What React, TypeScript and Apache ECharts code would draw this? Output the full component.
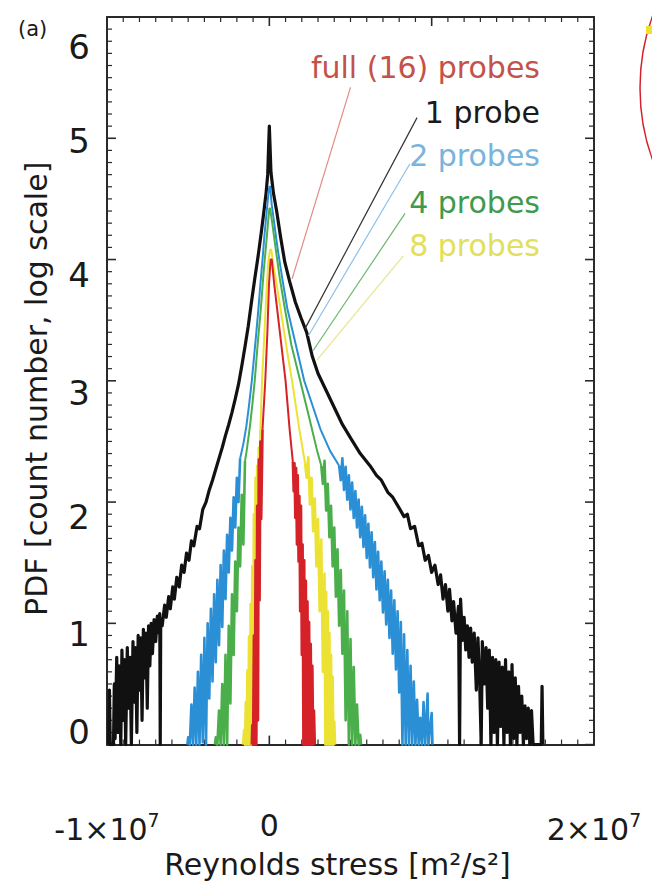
import React, { useEffect, useRef } from "react";
import * as echarts from "echarts";

// x values are in units of 1e6 m^2/s^2, y is log10(count)
const X_UNIT = 1e6;
const FONT = "DejaVu Sans";

const xTicks = [-1e7, 0, 1e7, 2e7];
const yTicks = [0, 1, 2, 3, 4, 5, 6];
const X_MINOR_PER_MAJOR = 10;
const Y_MINOR_PER_MAJOR = 10;

const legendNames = ["full (16) probes", "1 probe", "2 probes", "4 probes", "8 probes"];

// 1 probe (black)
const probe1: [number, number][] = [
  [-9.9, 0], [-9.85, 0.45], [-9.8, 0], [-9.6, 0], [-9.55, 0.5], [-9.5, 0.05], [-9.4, 0.72], [-9.32, 0.1],
  [-9.25, 0.65], [-9.15, 0], [-9.08, 0.78], [-9.0, 0.2], [-8.92, 0.7], [-8.85, 0], [-8.75, 0.8], [-8.66, 0.3],
  [-8.58, 0.72], [-8.5, 0], [-8.4, 0.85], [-8.32, 0.35], [-8.24, 0.8], [-8.16, 0.1], [-8.08, 0.9], [-8.0, 0.45],
  [-7.92, 0.88], [-7.84, 0.2], [-7.76, 0.95], [-7.68, 0.55], [-7.6, 0.92], [-7.52, 0.3], [-7.44, 0.98],
  [-7.36, 0.65], [-7.28, 1.0], [-7.2, 0.75], [-7.1, 1.03], [-7.0, 0.85], [-6.9, 1.06], [-6.8, 0.92],
  [-6.75, 1.08], [-6.72, 0], [-6.69, 1.04], [-6.6, 0.98], [-6.45, 1.15], [-6.35, 1.05], [-6.2, 1.22],
  [-6.1, 1.12], [-5.95, 1.3], [-5.85, 1.2], [-5.7, 1.38], [-5.55, 1.3], [-5.4, 1.48], [-5.25, 1.42],
  [-5.1, 1.58], [-4.95, 1.52], [-4.8, 1.68], [-4.65, 1.64], [-4.45, 1.8], [-4.3, 1.78], [-4.1, 1.94],
  [-3.9, 2.0], [-3.7, 2.1], [-3.5, 2.18], [-3.3, 2.27], [-3.1, 2.36], [-2.9, 2.45], [-2.7, 2.55],
  [-2.5, 2.64], [-2.3, 2.74], [-2.1, 2.85], [-1.9, 2.97], [-1.7, 3.12], [-1.5, 3.28], [-1.3, 3.45],
  [-1.1, 3.65], [-0.9, 3.84], [-0.7, 4.02], [-0.5, 4.22], [-0.35, 4.38], [-0.2, 4.55], [-0.1, 4.7],
  [-0.04, 4.95], [0, 5.1], [0.04, 4.95], [0.1, 4.72], [0.25, 4.55], [0.45, 4.4], [0.7, 4.18], [0.95, 3.98],
  [1.25, 3.82], [1.6, 3.65], [1.95, 3.52], [2.3, 3.4], [2.65, 3.2], [3.0, 3.06], [3.5, 2.92], [4.0, 2.78],
  [4.5, 2.64], [5.0, 2.53], [5.6, 2.4], [6.2, 2.3], [6.6, 2.22], [6.9, 2.18], [7.3, 2.08], [7.6, 2.04],
  [8.0, 1.95], [8.3, 1.88], [8.5, 1.9], [8.7, 1.78], [8.95, 1.8], [9.2, 1.64], [9.4, 1.66], [9.6, 1.52],
  [9.8, 1.56], [10.0, 1.42], [10.2, 1.48], [10.4, 1.32], [10.55, 1.4], [10.7, 1.2], [10.85, 1.32],
  [11.0, 1.1], [11.1, 1.28], [11.25, 1.02], [11.35, 1.18], [11.5, 0.92], [11.65, 1.14], [11.72, 0],
  [11.78, 1.2], [11.9, 0.86], [12.0, 1.05], [12.1, 0.78], [12.2, 0.98], [12.3, 0.72], [12.4, 0.96],
  [12.5, 0.68], [12.62, 0.92], [12.75, 0.45], [12.85, 0.88], [12.95, 0.55], [13.05, 0], [13.12, 0.85],
  [13.25, 0.5], [13.35, 0.8], [13.45, 0.3], [13.55, 0.78], [13.65, 0], [13.75, 0.72], [13.85, 0.1],
  [13.95, 0.7], [14.05, 0], [14.15, 0.68], [14.25, 0.15], [14.35, 0.64], [14.45, 0], [14.55, 0.7],
  [14.65, 0.1], [14.75, 0.6], [14.85, 0], [14.95, 0.66], [15.05, 0.05], [15.15, 0.55], [15.25, 0],
  [15.35, 0.48], [15.45, 0.1], [15.55, 0.4], [15.65, 0], [15.75, 0.32], [15.85, 0.05], [15.95, 0.3],
  [16.05, 0], [16.15, 0.28], [16.25, 0], [16.75, 0], [16.8, 0.48], [16.85, 0],
];

// 2 probes (blue): noisy left tail, core, noisy right tail
const probe2Left: [number, number][] = [
  [-5.05, 0], [-5.0, 0.06], [-4.9, 0], [-4.8, 0.33], [-4.7, 0], [-4.6, 0.47], [-4.5, 0], [-4.4, 0.6],
  [-4.3, 0], [-4.2, 0.74], [-4.1, 0.02], [-4.0, 0.88], [-3.9, 0], [-3.8, 1.0], [-3.7, 0.38], [-3.6, 1.12],
  [-3.5, 0.52], [-3.4, 1.24], [-3.3, 0.68], [-3.2, 1.36], [-3.1, 0.82], [-3.0, 1.48], [-2.9, 0.97],
  [-2.8, 1.6], [-2.7, 1.2], [-2.6, 1.73], [-2.5, 1.42], [-2.4, 1.87], [-2.3, 1.6], [-2.2, 2.04],
  [-2.1, 1.79], [-2.0, 2.2], [-1.9, 2.0], [-1.8, 2.36],
];
const probe2Core: [number, number][] = [
  [-1.8, 2.36], [-1.6, 2.48], [-1.42, 2.62], [-1.25, 2.8], [-1.08, 3.0], [-0.94, 3.2], [-0.8, 3.4],
  [-0.67, 3.6], [-0.55, 3.8], [-0.42, 4.0], [-0.3, 4.2], [-0.16, 4.4], [-0.05, 4.55], [0, 4.6],
  [0.05, 4.6], [0.15, 4.45], [0.3, 4.3], [0.5, 4.1], [0.8, 3.84], [1.1, 3.6], [1.45, 3.4], [1.8, 3.2],
  [2.15, 3.0], [2.65, 2.8], [3.15, 2.6], [3.75, 2.42], [4.3, 2.3],
];
const probe2Right: [number, number][] = [
  [4.3, 2.3], [4.4, 2.18], [4.5, 2.36], [4.6, 2.1], [4.7, 2.29], [4.8, 2.02], [4.9, 2.22], [5.0, 1.94],
  [5.1, 2.16], [5.2, 1.87], [5.3, 2.09], [5.4, 1.79], [5.5, 2.02], [5.6, 1.71], [5.7, 1.96], [5.8, 1.63],
  [5.9, 1.89], [6.0, 1.54], [6.1, 1.82], [6.2, 1.46], [6.3, 1.75], [6.4, 1.38], [6.5, 1.67], [6.6, 1.28],
  [6.7, 1.59], [6.8, 1.19], [6.9, 1.51], [7.0, 1.09], [7.1, 1.43], [7.2, 0.99], [7.3, 1.36], [7.4, 0.88],
  [7.5, 1.27], [7.6, 0.75], [7.7, 1.19], [7.8, 0.62], [7.9, 1.1], [8.0, 0.43], [8.1, 1.01], [8.2, 0],
  [8.3, 0.91], [8.4, 0], [8.5, 0.78], [8.6, 0], [8.7, 0.65], [8.8, 0], [8.9, 0.52], [9.0, 0], [9.1, 0.37],
  [9.2, 0], [9.3, 0.22], [9.4, 0], [9.5, 0.35], [9.6, 0], [9.75, 0.42], [9.8, 0], [10.0, 0.26], [10.05, 0],
];

// 4 probes (green)
const probe4Left: [number, number][] = [
  [-3.35, 0], [-3.3, 0.06], [-3.2, 0], [-3.1, 0.28], [-3.0, 0], [-2.9, 0.5], [-2.8, 0], [-2.7, 0.74],
  [-2.6, 0], [-2.5, 0.98], [-2.4, 0.34], [-2.3, 1.24], [-2.2, 0.74], [-2.1, 1.51], [-2.0, 1.1],
  [-1.9, 1.79], [-1.8, 1.47], [-1.7, 2.06], [-1.6, 1.65], [-1.5, 2.34],
];
const probe4Core: [number, number][] = [
  [-1.5, 2.34], [-1.4, 2.42], [-1.2, 2.62], [-1.05, 2.8], [-0.9, 3.0], [-0.72, 3.3], [-0.52, 3.6],
  [-0.35, 3.9], [-0.18, 4.15], [-0.05, 4.35], [0, 4.42], [0.05, 4.42], [0.18, 4.3], [0.38, 4.1],
  [0.65, 3.84], [0.95, 3.6], [1.35, 3.3], [1.9, 3.0], [2.45, 2.7], [2.95, 2.42], [3.2, 2.3],
];
const probe4Right: [number, number][] = [
  [3.2, 2.3], [3.3, 2.15], [3.4, 2.34], [3.5, 1.93], [3.6, 2.15], [3.7, 1.71], [3.8, 1.97], [3.9, 1.47],
  [4.0, 1.79], [4.1, 1.22], [4.2, 1.61], [4.3, 0.98], [4.4, 1.44], [4.5, 0.75], [4.6, 1.27], [4.7, 0.2],
  [4.8, 1.1], [4.9, 0], [5.0, 0.87], [5.1, 0], [5.2, 0.64], [5.3, 0], [5.4, 0.33], [5.5, 0], [5.6, 0.08],
  [5.65, 0],
];

// 8 probes (yellow)
const probe8Left: [number, number][] = [
  [-1.62, 0], [-1.55, 0.12], [-1.5, 0], [-1.45, 0.35], [-1.4, 0], [-1.35, 0.61], [-1.3, 0], [-1.25, 0.89],
  [-1.2, 0], [-1.15, 1.16], [-1.1, 0], [-1.05, 1.47], [-1.0, 0.56], [-0.95, 1.9], [-0.9, 0.9],
  [-0.85, 2.2], [-0.8, 1.24], [-0.75, 2.3], [-0.7, 1.64], [-0.65, 2.45], [-0.6, 2.07], [-0.55, 2.6],
];
const probe8Core: [number, number][] = [
  [-0.55, 2.6], [-0.45, 3.0], [-0.3, 3.4], [-0.15, 3.8], [-0.05, 4.0], [0.05, 4.08], [0.12, 4.08],
  [0.25, 3.95], [0.4, 3.84], [0.8, 3.5], [1.15, 3.2], [1.4, 3.0], [1.85, 2.6], [2.2, 2.32],
];
const probe8Right: [number, number][] = [
  [2.2, 2.32], [2.3, 2.2], [2.4, 2.37], [2.5, 1.98], [2.6, 2.2], [2.7, 1.76], [2.8, 2.03], [2.9, 1.47],
  [3.0, 1.86], [3.1, 1.1], [3.2, 1.69], [3.3, 0.6], [3.4, 1.41], [3.45, 0], [3.5, 1.26], [3.55, 0],
  [3.6, 1.1], [3.65, 0], [3.7, 0.92], [3.75, 0], [3.8, 0.74], [3.85, 0], [3.9, 0.56], [3.95, 0],
  [4.0, 0.19], [4.05, 0],
];

// full (16) probes (red)
const probe16Left: [number, number][] = [
  [-1.08, 0], [-1.05, 0.16], [-1.0, 0], [-0.95, 0.9], [-0.9, 0], [-0.85, 1.52], [-0.8, 0], [-0.75, 1.97],
  [-0.7, 0.2], [-0.65, 2.35], [-0.6, 1.19], [-0.55, 2.5], [-0.5, 1.86], [-0.42, 2.6],
];
const probe16Core: [number, number][] = [
  [-0.42, 2.6], [-0.25, 3.0], [-0.12, 3.4], [-0.02, 3.8], [0.08, 4.0], [0.15, 4.0], [0.3, 3.8],
  [0.65, 3.4], [1.0, 3.0], [1.25, 2.6], [1.45, 2.33],
];
const probe16Right: [number, number][] = [
  [1.45, 2.33], [1.5, 2.09], [1.55, 2.32], [1.6, 1.87], [1.65, 2.28], [1.7, 1.65], [1.75, 2.22],
  [1.8, 1.51], [1.85, 2.05], [1.9, 1.1], [1.95, 1.97], [2.0, 0.74], [2.05, 1.65], [2.1, 0], [2.15, 1.52],
  [2.2, 0], [2.25, 1.35], [2.3, 0], [2.35, 1.18], [2.4, 0], [2.45, 1.01], [2.5, 0], [2.55, 0.83],
  [2.6, 0], [2.65, 0.65], [2.7, 0], [2.75, 0.28], [2.8, 0],
];

// leader lines: [x1, y1, x2, y2] in data units (x in 1e6)
const leader16 = [5.0, 5.42, 1.4, 3.84];
const leader1 = [9.1, 5.17, 2.2, 3.43];
const leader2 = [8.66, 4.79, 2.4, 3.37];
const leader4 = [8.36, 4.38, 2.7, 3.25];
const leader8 = [8.25, 4.03, 2.93, 3.17];

const COLORS = {
  p1: "#111111",
  p2: "#2b8fd6",
  p4: "#4aae4a",
  p8: "#ece234",
  p16: "#d42228",
};

const toData = (arr: [number, number][]) => arr.map(([v, y]) => [v * X_UNIT, y]);

const leaderLine = (l: number[], color: string) => ({
  silent: true,
  symbol: ["none", "none"],
  label: { show: false },
  lineStyle: { color, width: 1.2, type: "solid" as const },
  data: [[{ coord: [l[0] * X_UNIT, l[1]] }, { coord: [l[2] * X_UNIT, l[3]] }]],
});

const yShift: Record<string, number[]> = {
  "0": [0, 0, 26, 0],
  "1": [22, 0, 0, 0],
  "2": [30, 0, 0, 0],
  "3": [24, 0, 0, 0],
  "4": [30, 0, 0, 0],
  "5": [6, 0, 0, 0],
  "6": [60, 0, 0, 0],
};

const AXIS_COLOR = "#2a2a2a";
const MAJOR_LEN = 9;
const MINOR_LEN = 5;

export default function App() {
  const ref = useRef<HTMLDivElement>(null);

  useEffect(() => {
    if (!ref.current) return;
    const chart = echarts.init(ref.current, undefined, { renderer: "svg" });

    const yRich: Record<string, any> = {};
    yTicks.forEach((t) => {
      yRich["s" + t] = { fontSize: 34, fontFamily: FONT, color: "#1a1a1a", padding: yShift[String(t)] };
    });

    const line = (name: string, data: [number, number][], color: string, width: number, leader?: number[], leaderColor?: string) => {
      const s: any = {
        type: "line",
        name,
        data: toData(data),
        showSymbol: false,
        symbol: "none",
        smooth: false,
        lineStyle: { color, width, join: "round" },
        itemStyle: { color },
        clip: true,
      };
      if (leader && leaderColor) s.markLine = leaderLine(leader, leaderColor);
      return s;
    };

    const BAND = 2.6;
    const CORE = 2;
    const boxLine = { show: true, onZero: false, lineStyle: { color: AXIS_COLOR, width: 2 } };

    const xRange = { min: xTicks[0], max: xTicks[xTicks.length - 1], interval: 1e7 };
    const yRange = { min: yTicks[0], max: yTicks[yTicks.length - 1], interval: 1 };

    const frameAxis = (position: string, range: any) => ({
      type: "value", position, ...range,
      axisLine: boxLine,
      axisTick: { show: false },
      minorTick: { show: false },
      splitLine: { show: false },
      axisLabel: { show: false },
    });

    chart.setOption({
      animation: false,
      backgroundColor: "#ffffff",
      grid: { left: 107, right: 58, top: 17, bottom: 136, containLabel: false },
      xAxis: [
        {
          type: "value",
          position: "bottom",
          ...xRange,
          axisLine: boxLine,
          axisTick: { show: false },
          minorTick: { show: false },
          splitLine: { show: false },
          name: "Reynolds stress [m²/s²]",
          nameLocation: "middle",
          nameGap: 104,
          nameTextStyle: { fontSize: 30, fontFamily: FONT, color: "#1a1a1a", padding: [0, 26, 0, 0] },
          axisLabel: {
            show: true,
            margin: 66,
            formatter: (v: number) => {
              if (v === 0) return "{b|0}";
              if (v === 1e7) return "";
              return `{b|${v / 1e7}×10}{s|7}`;
            },
            rich: {
              b: { fontSize: 30, fontFamily: FONT, color: "#1a1a1a" },
              s: { fontSize: 19, fontFamily: FONT, color: "#1a1a1a", padding: [0, 0, 18, 0] },
            },
          },
        },
        frameAxis("top", xRange),
      ],
      yAxis: [
        {
          type: "value",
          position: "left",
          ...yRange,
          axisLine: boxLine,
          axisTick: { show: false },
          minorTick: { show: false },
          splitLine: { show: false },
          name: "PDF [count number, log scale]",
          nameLocation: "middle",
          nameGap: 56,
          nameTextStyle: { fontSize: 30, fontFamily: FONT, color: "#1a1a1a", padding: [0, 16, 0, 0] },
          axisLabel: {
            show: true,
            margin: 17,
            formatter: (v: number) => `{s${v}|${v}}`,
            rich: yRich,
          },
        },
        frameAxis("right", yRange),
      ],
      series: [
        line(legendNames[1], probe1, COLORS.p1, 3.2, leader1, "#333333"),
        line(legendNames[2], probe2Left, COLORS.p2, BAND),
        line(legendNames[2], probe2Core, COLORS.p2, CORE, leader2, "#8dc0e6"),
        line(legendNames[2], probe2Right, COLORS.p2, BAND),
        line(legendNames[3], probe4Left, COLORS.p4, BAND),
        line(legendNames[3], probe4Core, COLORS.p4, CORE, leader4, "#6cb86c"),
        line(legendNames[3], probe4Right, COLORS.p4, BAND),
        line(legendNames[4], probe8Left, COLORS.p8, BAND),
        line(legendNames[4], probe8Core, COLORS.p8, CORE, leader8, "#e6e690"),
        line(legendNames[4], probe8Right, COLORS.p8, BAND),
        line(legendNames[0], probe16Left, COLORS.p16, BAND),
        line(legendNames[0], probe16Core, COLORS.p16, CORE, leader16, "#e48a84"),
        line(legendNames[0], probe16Right, COLORS.p16, BAND),
      ],
    });

    // Inward frame ticks, placed through the chart's own scales.
    const toPx = (x: number, y: number) => chart.convertToPixel({ gridIndex: 0 }, [x, y]) as number[];
    const bl = toPx(xTicks[0], yTicks[0]);
    const tr = toPx(xTicks[xTicks.length - 1], yTicks[yTicks.length - 1]);
    const tickEls: any[] = [];
    const xMajorStep = xTicks[1] - xTicks[0];
    const xSteps = (xTicks.length - 1) * X_MINOR_PER_MAJOR;
    for (let i = 0; i <= xSteps; i++) {
      const v = xTicks[0] + (i * xMajorStep) / X_MINOR_PER_MAJOR;
      const major = i % X_MINOR_PER_MAJOR === 0;
      const len = major ? MAJOR_LEN : MINOR_LEN;
      const px = toPx(v, yTicks[0])[0];
      const st = { stroke: AXIS_COLOR, lineWidth: major ? 1.6 : 1.2 };
      tickEls.push({ type: "line", shape: { x1: px, y1: bl[1], x2: px, y2: bl[1] - len }, style: st });
      tickEls.push({ type: "line", shape: { x1: px, y1: tr[1], x2: px, y2: tr[1] + len }, style: st });
    }
    const yMajorStep = yTicks[1] - yTicks[0];
    const ySteps = (yTicks.length - 1) * Y_MINOR_PER_MAJOR;
    for (let i = 0; i <= ySteps; i++) {
      const v = yTicks[0] + (i * yMajorStep) / Y_MINOR_PER_MAJOR;
      const major = i % Y_MINOR_PER_MAJOR === 0;
      const len = major ? MAJOR_LEN : MINOR_LEN;
      const py = toPx(xTicks[0], v)[1];
      const st = { stroke: AXIS_COLOR, lineWidth: major ? 1.6 : 1.2 };
      tickEls.push({ type: "line", shape: { x1: bl[0], y1: py, x2: bl[0] + len, y2: py }, style: st });
      tickEls.push({ type: "line", shape: { x1: tr[0], y1: py, x2: tr[0] - len, y2: py }, style: st });
    }

    chart.setOption({
      graphic: [
        { id: "ticks", type: "group", silent: true, z: 10, children: tickEls },
        { id: "panel", type: "text", left: 18, top: 18, style: { text: "(a)", fontSize: 21, fontFamily: FONT, fill: "#1a1a1a" } },
        {
          id: "labels",
          type: "group",
          right: 112,
          top: 52,
          children: [
            { type: "text", x: 0, y: 0, style: { text: legendNames[0], fontSize: 30, fontFamily: FONT, fill: "#c4524a", align: "right", verticalAlign: "middle" } },
            { type: "text", x: 0, y: 45, style: { text: legendNames[1], fontSize: 30, fontFamily: FONT, fill: "#1a1a1a", align: "right", verticalAlign: "middle" } },
            { type: "text", x: 0, y: 88, style: { text: legendNames[2], fontSize: 30, fontFamily: FONT, fill: "#79b4dc", align: "right", verticalAlign: "middle" } },
            { type: "text", x: 0, y: 135, style: { text: legendNames[3], fontSize: 30, fontFamily: FONT, fill: "#3f9a4f", align: "right", verticalAlign: "middle" } },
            { type: "text", x: 0, y: 178, style: { text: legendNames[4], fontSize: 30, fontFamily: FONT, fill: "#e2e05a", align: "right", verticalAlign: "middle" } },
          ],
        },
        { id: "arc", type: "circle", shape: { cx: 850, cy: 88, r: 210 }, style: { fill: "none", stroke: "#d42228", lineWidth: 1.5 } },
        { id: "dot", type: "rect", shape: { x: 646, y: 26, width: 6, height: 8 }, style: { fill: "#ece234" } },
      ],
    });

    return () => chart.dispose();
  }, []);

  return <div ref={ref} style={{ position: "fixed", left: 0, top: 0, width: 652, height: 884, background: "#fff" }} />;
}
